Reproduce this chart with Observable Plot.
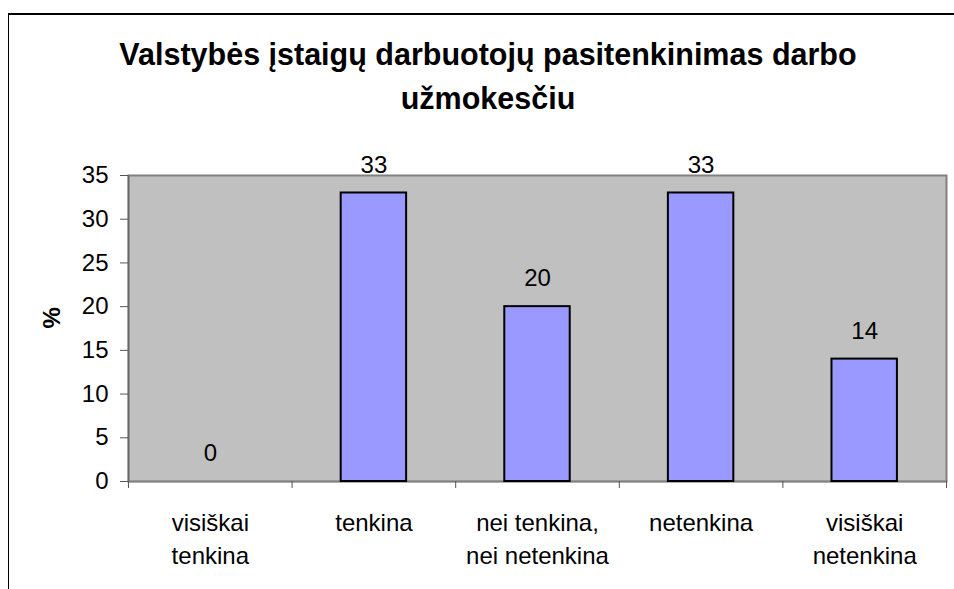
<!DOCTYPE html>
<html>
<head>
<meta charset="utf-8">
<script src="https://cdn.jsdelivr.net/npm/d3@7"></script>
<script src="https://cdn.jsdelivr.net/npm/@observablehq/plot@0.6"></script>
<style>
  html, body { margin: 0; padding: 0; background: #fff; width: 954px; height: 589px; overflow: hidden; }
  body { position: relative; font-family: "Liberation Sans", Arial, sans-serif; }
  #frame { position: absolute; left: 8px; top: 13px; width: 2000px; height: 2000px; border-top: 2px solid #000; border-left: 1.5px solid #000; }
  #title { position: absolute; left: 0; width: 976px; top: 32px; text-align: center; font-weight: bold; font-size: 30.5px; line-height: 44px; color: #000; }
  #chart { position: absolute; left: 0; top: 140px; }
</style>
</head>
<body>
<div id="frame"></div>
<div id="title">Valstybės įstaigų darbuotojų pasitenkinimas darbo<br>užmokesčiu</div>
<div id="chart"></div>
<script>
const categories = ["visiškai\ntenkina", "tenkina", "nei tenkina,\nnei netenkina", "netenkina", "visiškai\nnetenkina"];
const values = [0, 33, 20, 33, 14];
const yTicks = [0, 5, 10, 15, 20, 25, 30, 35];
const yLabel = "%";

const data = categories.map((c, i) => ({cat: c, idx: i, value: values[i]}));
const boundaries = d3.range(categories.length + 1);

const plot = Plot.plot({
  width: 954,
  height: 449,
  marginTop: 35,
  marginBottom: 108,
  marginLeft: 128,
  marginRight: 8,
  style: {fontFamily: "Liberation Sans, Arial, sans-serif", fontSize: "24px", color: "#000", background: "transparent"},
  x: {domain: [0, categories.length], axis: null},
  y: {domain: [0, 35], axis: null},
  marks: [
    Plot.frame({fill: "#c0c0c0", stroke: "#808080", strokeWidth: 2}),
    Plot.ruleX([0], {stroke: "#666", strokeWidth: 1.5}),
    Plot.ruleY([0], {stroke: "#808080", strokeWidth: 1.5}),
    Plot.rectY(data, {x1: d => d.idx + 0.3, x2: d => d.idx + 0.7, y: "value", fill: "#9999ff", stroke: "#000", strokeWidth: 2}),
    Plot.text(data, {x: d => d.idx + 0.5, y: "value", text: d => String(d.value), dy: -28, lineAnchor: "middle", fontSize: 24, fill: "#000"}),
    Plot.axisY(yTicks, {tickSize: 8, tickPadding: 12, fontSize: 24, stroke: "#555", label: null, tickFormat: d => String(d)}),
    Plot.axisX(boundaries, {tickSize: 7, tickFormat: () => "", stroke: "#555", label: null}),
    Plot.text(data, {x: d => d.idx + 0.5, y: 0, text: "cat", dy: 26, lineAnchor: "top", lineHeight: 1.375, fontSize: 24, fill: "#000"}),
    Plot.text([yLabel], {frameAnchor: "left", dx: -76, rotate: -90, fontWeight: "bold", fontSize: 24, fill: "#000"})
  ]
});
document.getElementById("chart").appendChild(plot);
</script>
</body>
</html>
